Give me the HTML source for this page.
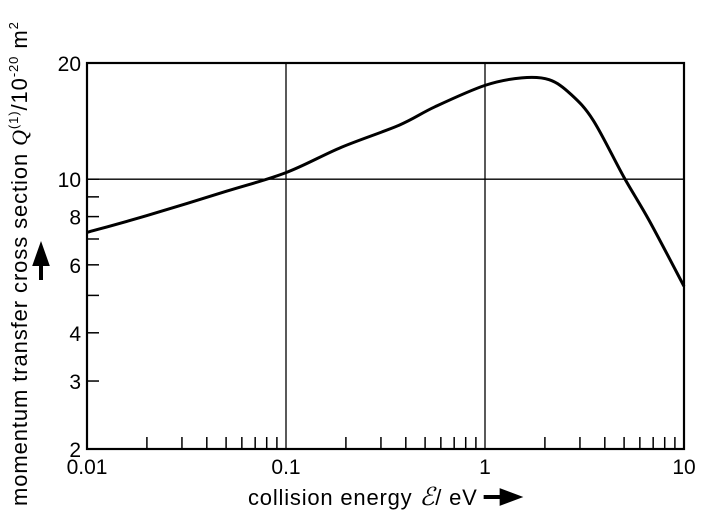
<!DOCTYPE html>
<html><head><meta charset="utf-8"><style>
body{margin:0;background:#fff}
svg{display:block;font-family:"Liberation Sans","DejaVu Sans",sans-serif}
</style></head><body>
<svg width="717" height="516">
<g id="plot"></g>
<text id="xt" x="248" y="505" font-size="22" letter-spacing="0.8" fill="#000">collision energy <tspan font-family="Liberation Serif" font-style="italic" font-size="25">ℰ</tspan>/ eV</text>
<path id="xa" d="M0 -6 H20 M18 -12 L34 -6 L18 0 Z" stroke="#000" stroke-width="4" fill="#000"/>
<text transform="translate(27,506) rotate(-90)" font-size="22" letter-spacing="0.9" fill="#000">momentum transfer cross section <tspan font-family="Liberation Serif" font-style="italic">Q</tspan><tspan font-size="13" dy="-9">(1)</tspan><tspan dy="9">/10</tspan><tspan font-size="13" dy="-9">-20</tspan><tspan dy="9"> m</tspan><tspan font-size="13" dy="-9">2</tspan></text>
<path d="M41 280 V262 M35 264 L41 247 L47 264 Z" stroke="#000" stroke-width="4" fill="#000"/>
</svg>
<script>
const energies=[0.01,0.02,0.05,0.1,0.19,0.37,0.56,1.0,1.53,2.1,2.7,3.5,5.0,6.7,10];
const crossSection=[7.28,8.05,9.3,10.4,12.1,13.8,15.4,17.5,18.3,18.1,16.6,14.2,10.1,7.8,5.28];
const xTickLabels=["0.01","0.1","1","10"];
const xTickValues=[0.01,0.1,1,10];
const yTickValues=[2,3,4,6,8,10,20];
const yTickLabels=["2","3","4","6","8","10","20"];
const yMinorValues=[5,7,9];
const X0=87,X1=684,Y0=449,Y1=63;
const sx=v=>X0+(Math.log10(v)+2)/3*(X1-X0);
const sy=v=>Y0-(Math.log10(v)-Math.log10(2))*(Y0-Y1);
const NS="http://www.w3.org/2000/svg";
const g=document.getElementById('plot');
const xt=document.getElementById('xt');
document.getElementById('xa').setAttribute('transform','translate('+(248+xt.getComputedTextLength()+6)+',503)');
function mk(t,a){const e=document.createElementNS(NS,t);for(const k in a)e.setAttribute(k,a[k]);g.appendChild(e);return e;}
let el=mk('rect',{x:X0,y:Y1,width:X1-X0,height:Y0-Y1,fill:'none',stroke:'#000','stroke-width':2.2});


[0.1,1].forEach(v=>{const l=mk('line',{x1:sx(v),x2:sx(v),y1:Y1,y2:Y0,stroke:'#000','stroke-width':1.3});

});
const hl=mk('line',{x1:X0,x2:X1,y1:sy(10),y2:sy(10),stroke:'#000','stroke-width':1.3});


for(let d=-2;d<1;d++)for(let m=2;m<=9;m++){const v=m*Math.pow(10,d);
const t=mk('line',{x1:sx(v),x2:sx(v),y1:Y0,y2:Y0-12,stroke:'#000','stroke-width':1.5});

}
yTickValues.concat(yMinorValues).forEach(v=>{if(v==2||v==20)return;const t=mk('line',{x1:X0,x2:X0+12,y1:sy(v),y2:sy(v),stroke:'#000','stroke-width':1.5});

});
xTickValues.forEach((v,i)=>{const t=mk('text',{x:sx(v),y:Y0+25,'text-anchor':'middle','font-size':21});t.textContent=xTickLabels[i];

});
yTickValues.forEach((v,i)=>{const t=mk('text',{x:X0-6,y:sy(v)+8,'text-anchor':'end','font-size':21});t.textContent=yTickLabels[i];

});
const pts=energies.map((e,i)=>[sx(e),sy(crossSection[i])]);
let d='M'+pts[0][0]+' '+pts[0][1];
for(let i=0;i<pts.length-1;i++){const p0=pts[Math.max(0,i-1)],p1=pts[i],p2=pts[i+1],p3=pts[Math.min(pts.length-1,i+2)];
d+=' C'+(p1[0]+(p2[0]-p0[0])/6)+' '+(p1[1]+(p2[1]-p0[1])/6)+' '+(p2[0]-(p3[0]-p1[0])/6)+' '+(p2[1]-(p3[1]-p1[1])/6)+' '+p2[0]+' '+p2[1];}
const c=mk('path',{d:d,fill:'none',stroke:'#000','stroke-width':3});


</script>
</body></html>
